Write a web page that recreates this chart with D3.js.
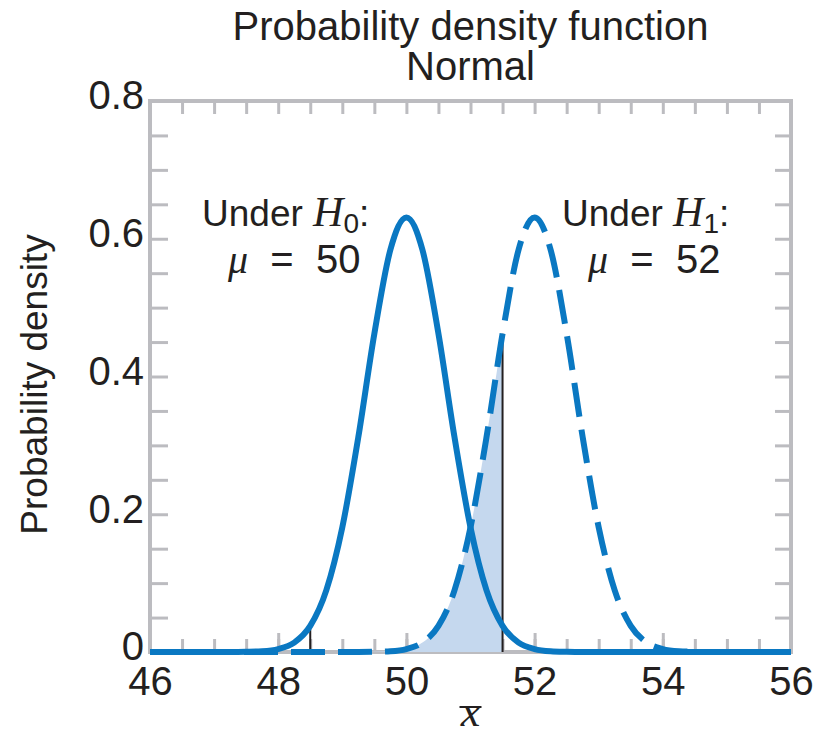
<!DOCTYPE html>
<html>
<head>
<meta charset="utf-8">
<script src="https://cdn.jsdelivr.net/npm/d3@7"></script>
<style>
    body { margin: 0; background: #fff; }
    text { font-family: "Liberation Sans", Arial, sans-serif; fill: #231f20; }
    .serif { font-family: "Liberation Serif", "Times New Roman", serif; font-style: italic; }
    .frame line, .frame path { stroke: #bcbcc0; }
</style>
</head>
<body>
<svg id="chart" width="816" height="736"></svg>
<script>
// sample grid (x-bar) and density values
const xValues = [46, 46.25, 46.5, 46.75, 47, 47.25, 47.5, 47.75, 48, 48.25, 48.5, 48.75,
    49, 49.25, 49.5, 49.75, 50, 50.25, 50.5, 50.75, 51, 51.25, 51.5, 51.75,
    52, 52.25, 52.5, 52.75, 53, 53.25, 53.5, 53.75, 54, 54.25, 54.5, 54.75,
    55, 55.25, 55.5, 55.75, 56];
const densityH0 = [0, 0, 0, 0, 0, 0, 0.0003, 0.0011, 0.0043, 0.0137, 0.0379, 0.0895,
    0.181, 0.312, 0.462, 0.584, 0.631, 0.584, 0.462, 0.312, 0.181, 0.0895, 0.0379, 0.0137,
    0.0043, 0.0011, 0.0003, 0, 0, 0, 0, 0, 0, 0, 0, 0,
    0, 0, 0, 0, 0];
const densityH1 = [0, 0, 0, 0, 0, 0, 0, 0, 0, 0, 0, 0,
    0, 0, 0.0003, 0.0011, 0.0043, 0.0137, 0.0379, 0.0895, 0.181, 0.312, 0.462, 0.584,
    0.631, 0.584, 0.462, 0.312, 0.181, 0.0895, 0.0379, 0.0137, 0.0043, 0.0011, 0.0003, 0,
    0, 0, 0, 0, 0];

// acceptance region limits
const limits = [48.5, 51.5];

// ticks
const xTickLabels = [46, 48, 50, 52, 54, 56];
const xMinorTicks = [46.5, 47, 47.5, 48, 48.5, 49, 49.5, 50, 50.5, 51, 51.5, 52, 52.5, 53, 53.5, 54, 54.5, 55, 55.5];
const xMajorTicks = [48, 50, 52, 54];
const yTickLabels = [0, 0.2, 0.4, 0.6, 0.8];
const yMinorTicks = [0.05, 0.1, 0.15, 0.2, 0.25, 0.3, 0.35, 0.4, 0.45, 0.5, 0.55, 0.6, 0.65, 0.7, 0.75];

const svg = d3.select("#chart");
const margin = { top: 101, right: 25, bottom: 84, left: 150 };
const width = 816, height = 736;

const x = d3.scaleLinear().domain([46, 56]).range([margin.left, width - margin.right]);
const y = d3.scaleLinear().domain([0, 0.8]).range([height - margin.bottom, margin.top]);

const blue = "#0a78c2";
const h0 = xValues.map((v, i) => [v, densityH0[i]]);
const h1 = xValues.map((v, i) => [v, densityH1[i]]);

// title
svg.append("text")
    .attr("x", (x.range()[0] + x.range()[1]) / 2)
    .attr("y", 40)
    .attr("text-anchor", "middle")
    .style("font-size", "40px")
    .text("Probability density function");
svg.append("text")
    .attr("x", (x.range()[0] + x.range()[1]) / 2)
    .attr("y", 80)
    .attr("text-anchor", "middle")
    .style("font-size", "40px")
    .text("Normal");

// inner tick marks on all four sides
const frame = svg.append("g").attr("class", "frame");
frame.append("g")
    .attr("transform", `translate(0,${y(0)})`)
    .call(d3.axisBottom(x).tickValues(xMinorTicks).tickSize(-13).tickFormat(""))
    .call(g => g.select(".domain").remove())
    .selectAll("line").attr("stroke-width", 3);
frame.append("g")
    .attr("transform", `translate(0,${y(0)})`)
    .call(d3.axisBottom(x).tickValues(xMajorTicks).tickSize(-19).tickFormat(""))
    .call(g => g.select(".domain").remove())
    .selectAll("line").attr("stroke-width", 3);
frame.append("g")
    .attr("transform", `translate(0,${y(0.8)})`)
    .call(d3.axisTop(x).tickValues(xMinorTicks).tickSize(-13).tickFormat(""))
    .call(g => g.select(".domain").remove())
    .selectAll("line").attr("stroke-width", 3);
frame.append("g")
    .attr("transform", `translate(${x(46)},0)`)
    .call(d3.axisLeft(y).tickValues(yMinorTicks).tickSize(-18).tickFormat(""))
    .call(g => g.select(".domain").remove())
    .selectAll("line").attr("stroke-width", 3);
frame.append("g")
    .attr("transform", `translate(${x(56)},0)`)
    .call(d3.axisRight(y).tickValues(yMinorTicks).tickSize(-16).tickFormat(""))
    .call(g => g.select(".domain").remove())
    .selectAll("line").attr("stroke-width", 3);
frame.append("rect")
    .attr("x", x(46))
    .attr("y", y(0.8))
    .attr("width", x(56) - x(46))
    .attr("height", y(0) - y(0.8))
    .attr("fill", "none")
    .attr("stroke", "#bcbcc0")
    .attr("stroke-width", 4);

// tick labels
svg.append("g")
    .attr("transform", `translate(0,${y(0)})`)
    .call(d3.axisBottom(x).tickValues(xTickLabels).tickSize(0).tickPadding(15))
    .call(g => g.select(".domain").remove())
    .selectAll("text")
    .attr("fill", "#231f20")
    .style("font-family", "Liberation Sans, Arial, sans-serif")
    .style("font-size", "40px");
svg.append("g")
    .attr("transform", `translate(${x(46)},-5)`)
    .call(d3.axisLeft(y).tickValues(yTickLabels).tickSize(0).tickPadding(6)
        .tickFormat(d => d === 0 ? "0" : d3.format(".1f")(d)))
    .call(g => g.select(".domain").remove())
    .selectAll("text")
    .attr("fill", "#231f20")
    .style("font-family", "Liberation Sans, Arial, sans-serif")
    .style("font-size", "40px");

// axis titles
svg.append("text")
    .attr("transform", `translate(47,${(y(0) + y(0.8)) / 2 + 8}) rotate(-90)`)
    .attr("text-anchor", "middle")
    .style("font-size", "37px")
    .text("Probability density");
svg.append("text")
    .attr("class", "serif")
    .attr("x", x(51))
    .attr("y", 726)
    .attr("text-anchor", "middle")
    .style("font-size", "44px")
    .text("x");
svg.append("line")
    .attr("x1", x(51) - 11)
    .attr("x2", x(51) + 11)
    .attr("y1", 707)
    .attr("y2", 707)
    .attr("stroke", "#231f20")
    .attr("stroke-width", 2);

// shaded beta region under H1 between the limits
const shade = h1.filter(d => d[0] >= limits[0] && d[0] <= limits[1]);
svg.append("path")
    .datum(shade)
    .attr("fill", "#c5d8ee")
    .attr("d", d3.area().curve(d3.curveMonotoneX)
        .x(d => x(d[0])).y0(y(0)).y1(d => y(d[1])));

// limit lines
svg.selectAll(".limit")
    .data([[limits[0], densityH0[xValues.indexOf(limits[0])]], [limits[1], densityH1[xValues.indexOf(limits[1])]]])
    .join("line")
    .attr("class", "limit")
    .attr("x1", d => x(d[0]))
    .attr("x2", d => x(d[0]))
    .attr("y1", y(0))
    .attr("y2", d => y(d[1]))
    .attr("stroke", "#231f20")
    .attr("stroke-width", 2);

// curves
const line = d3.line().curve(d3.curveMonotoneX).x(d => x(d[0])).y(d => y(d[1]));
svg.append("path")
    .datum(h1)
    .attr("d", line)
    .attr("fill", "none")
    .attr("stroke", blue)
    .attr("stroke-width", 6)
    .attr("stroke-dasharray", "34,13");
svg.append("path")
    .datum(h0)
    .attr("d", line)
    .attr("fill", "none")
    .attr("stroke", blue)
    .attr("stroke-width", 6);

// annotations
function annotate(xPos, hypSub, mu) {
    const t1 = svg.append("text").attr("x", xPos).attr("y", 226).style("font-size", "37px");
    t1.append("tspan").text("Under ");
    t1.append("tspan").attr("class", "serif").style("font-size", "42px").text("H");
    t1.append("tspan").attr("dy", 7).style("font-size", "28px").text(hypSub);
    t1.append("tspan").attr("dy", -7).text(":");
    const t2 = svg.append("text").attr("x", xPos + 26).attr("y", 273).style("font-size", "40px");
    t2.append("tspan").attr("class", "serif").text("\u03bc");
    t2.append("tspan").text("\u00a0 = \u00a0" + mu);
}
annotate(202, "0", 50);
annotate(562, "1", 52);
</script>
</body>
</html>
